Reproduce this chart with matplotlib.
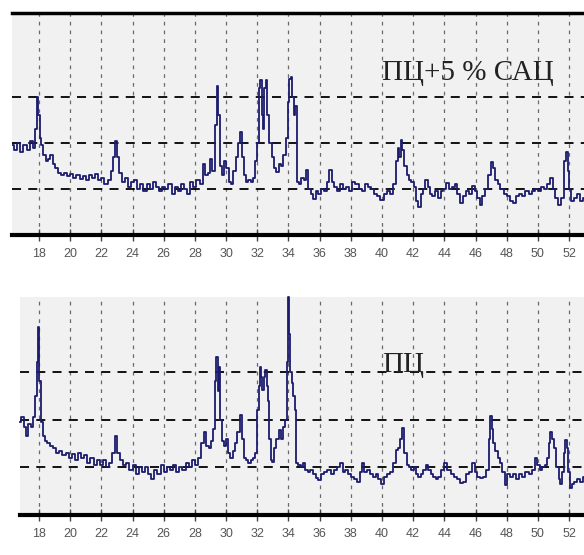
import matplotlib
matplotlib.use("Agg")
import matplotlib.pyplot as plt

# 2-theta positions and intensities (in units of the dashed grid spacing)
top_theta = [16.3, 16.5, 16.7, 16.9, 17.1, 17.3, 17.5, 17.7, 17.8, 17.9, 18.0, 18.1, 18.2, 18.35, 18.5,
             18.65, 18.8, 18.95, 19.1, 19.3, 19.5, 19.7, 19.9, 20.1, 20.3, 20.5, 20.7, 20.9, 21.1, 21.3,
             21.5, 21.7, 21.9, 22.1, 22.3, 22.5, 22.7, 22.85, 22.95, 23.05, 23.2, 23.4, 23.6, 23.8, 24.0,
             24.2, 24.4, 24.6, 24.8, 25.0, 25.2, 25.4, 25.6, 25.8, 26.0, 26.2, 26.4, 26.6, 26.8, 27.0,
             27.2, 27.4, 27.6, 27.8, 28.0, 28.2, 28.4, 28.6, 28.75, 28.9, 29.05, 29.2, 29.35, 29.45, 29.55,
             29.65, 29.8, 29.95, 30.1, 30.25, 30.4, 30.55, 30.7, 30.85, 30.95, 31.05, 31.2, 31.35, 31.5, 31.65,
             31.8, 31.95, 32.05, 32.15, 32.25, 32.35, 32.42, 32.5, 32.6, 32.7, 32.85, 33.0, 33.15, 33.3, 33.45,
             33.6, 33.75, 33.9, 34.0, 34.1, 34.2, 34.3, 34.4, 34.5, 34.6, 34.75, 34.9, 35.05, 35.2, 35.35,
             35.5, 35.7, 35.85, 36.0, 36.2, 36.4, 36.55, 36.7, 36.85, 37.0, 37.2, 37.4, 37.6, 37.8, 38.0,
             38.2, 38.4, 38.6, 38.8, 39.0, 39.2, 39.4, 39.6, 39.8, 40.0, 40.2, 40.4, 40.6, 40.8, 40.95,
             41.05, 41.15, 41.25, 41.35, 41.5, 41.65, 41.8, 41.95, 42.1, 42.25, 42.4, 42.55, 42.7, 42.85, 43.0,
             43.15, 43.3, 43.5, 43.7, 43.85, 44.0, 44.2, 44.4, 44.6, 44.75, 44.9, 45.1, 45.3, 45.5, 45.7,
             45.9, 46.05, 46.2, 46.35, 46.5, 46.7, 46.9, 47.05, 47.2, 47.35, 47.5, 47.7, 47.9, 48.1, 48.3,
             48.5, 48.7, 48.9, 49.1, 49.3, 49.5, 49.7, 49.9, 50.1, 50.3, 50.5, 50.7, 50.9, 51.05, 51.2,
             51.4, 51.6, 51.75, 51.85, 51.95, 52.05, 52.2, 52.4, 52.6, 52.8, 52.96]
top_intensity = [1.95, 1.85, 2.0, 1.8, 1.95, 1.85, 2.05, 1.9, 2.3, 3.0, 2.6, 2.1, 1.95, 1.75, 1.6,
                 1.65, 1.75, 1.55, 1.45, 1.35, 1.3, 1.35, 1.28, 1.32, 1.25, 1.3, 1.22, 1.28, 1.2, 1.3,
                 1.25, 1.32, 1.2, 1.25, 1.1, 1.2, 1.4, 1.7, 2.05, 1.7, 1.35, 1.15, 1.25, 1.05, 1.15,
                 1.2, 1.0, 1.1, 0.95, 1.1, 1.0, 1.15, 1.05, 0.95, 1.05, 1.0, 1.1, 0.9, 1.05, 0.95,
                 1.1, 1.0, 0.9, 1.15, 1.05, 1.2, 1.1, 1.55, 1.3, 1.35, 1.65, 1.4, 2.4, 3.25, 2.6,
                 1.5, 1.3, 1.6, 1.45, 1.15, 1.1, 1.4, 1.7, 2.0, 2.25, 1.7, 1.3, 1.15, 1.2, 1.15,
                 1.25, 1.6, 2.0, 3.2, 3.37, 2.6, 2.3, 3.2, 3.37, 2.6, 2.0, 1.7, 1.45, 1.37, 1.55,
                 1.5, 1.75, 2.1, 2.9, 3.4, 3.43, 3.0, 2.6, 2.8, 1.15, 1.1, 1.25, 1.2, 1.42, 1.0,
                 0.9, 0.78, 0.95, 0.9, 1.0, 0.95, 1.15, 1.42, 1.15, 1.05, 0.95, 1.1, 1.0, 1.05, 0.95,
                 1.15, 1.1, 1.0, 0.95, 1.1, 1.05, 1.0, 0.9, 0.85, 0.76, 0.9, 0.95, 0.9, 1.1, 1.6,
                 1.9, 1.7, 2.07, 1.85, 1.5, 1.3, 1.2, 1.15, 1.05, 0.75, 0.6, 0.9, 1.0, 1.2, 1.05,
                 0.9, 0.85, 0.95, 0.8, 0.95, 1.0, 1.13, 1.0, 1.05, 1.1, 0.9, 0.7, 0.85, 0.95, 0.9,
                 1.07, 0.95, 0.8, 0.65, 0.85, 1.0, 1.3, 1.59, 1.45, 1.2, 1.1, 1.0, 0.9, 0.85, 0.75,
                 0.7, 0.85, 0.9, 0.85, 0.95, 0.9, 0.95, 1.0, 0.95, 1.05, 1.0, 1.1, 1.24, 1.0, 0.8,
                 0.65, 0.8, 1.6, 1.8, 1.4, 1.0, 0.75, 0.8, 0.9, 0.75, 0.8]

bottom_theta = [16.8, 16.95, 17.1, 17.25, 17.4, 17.55, 17.7, 17.8, 17.9, 17.97, 18.05, 18.15, 18.3, 18.45, 18.6,
                18.8, 19.0, 19.2, 19.4, 19.6, 19.8, 20.0, 20.2, 20.4, 20.6, 20.8, 21.0, 21.2, 21.4, 21.6,
                21.8, 22.0, 22.2, 22.4, 22.6, 22.8, 22.95, 23.1, 23.3, 23.5, 23.7, 23.9, 24.1, 24.3, 24.5,
                24.7, 24.9, 25.1, 25.3, 25.5, 25.7, 25.9, 26.1, 26.3, 26.5, 26.7, 26.9, 27.1, 27.3, 27.5,
                27.7, 27.9, 28.1, 28.3, 28.5, 28.65, 28.8, 28.95, 29.1, 29.25, 29.35, 29.42, 29.5, 29.58, 29.65,
                29.8, 29.95, 30.06, 30.2, 30.35, 30.5, 30.65, 30.8, 30.95, 31.05, 31.2, 31.35, 31.5, 31.65, 31.8,
                31.95, 32.05, 32.12, 32.18, 32.28, 32.38, 32.48, 32.55, 32.65, 32.72, 32.8, 32.9, 33.0, 33.15, 33.3,
                33.45, 33.6, 33.75, 33.85, 33.92, 33.97, 34.05, 34.15, 34.25, 34.35, 34.45, 34.55, 34.7, 34.85, 35.0,
                35.15, 35.3, 35.5, 35.7, 35.85, 36.0, 36.2, 36.4, 36.6, 36.8, 37.0, 37.2, 37.4, 37.55, 37.7,
                37.9, 38.1, 38.3, 38.5, 38.65, 38.8, 38.95, 39.1, 39.3, 39.5, 39.7, 39.85, 40.0, 40.2, 40.4,
                40.6, 40.8, 40.96, 41.1, 41.25, 41.35, 41.5, 41.65, 41.8, 41.95, 42.1, 42.25, 42.4, 42.55, 42.7,
                42.9, 43.05, 43.2, 43.4, 43.55, 43.7, 43.9, 44.1, 44.3, 44.5, 44.7, 44.9, 45.1, 45.3, 45.5,
                45.7, 45.9, 46.05, 46.2, 46.4, 46.6, 46.8, 46.9, 46.99, 47.1, 47.2, 47.35, 47.5, 47.65, 47.8,
                47.95, 48.1, 48.3, 48.5, 48.7, 48.9, 49.1, 49.3, 49.5, 49.7, 49.9, 50.05, 50.2, 50.35, 50.5,
                50.65, 50.75, 50.85, 50.95, 51.1, 51.25, 51.4, 51.5, 51.6, 51.7, 51.8, 51.9, 52.0, 52.1, 52.25,
                52.4, 52.6, 52.8, 52.96]
bottom_intensity = [1.95, 2.05, 1.85, 1.65, 1.9, 1.85, 2.05, 2.5, 3.2, 3.94, 2.8, 1.95, 1.65, 1.55, 1.5,
                    1.45, 1.4, 1.3, 1.35, 1.25, 1.3, 1.2, 1.28, 1.15, 1.3, 1.2, 1.25, 1.1, 1.2, 1.05,
                    1.15, 1.05, 1.15, 1.0, 1.1, 1.3, 1.65, 1.3, 1.15, 1.05, 1.1, 0.95, 1.05, 0.85, 1.0,
                    0.9, 1.0, 0.85, 0.75, 0.95, 0.85, 1.05, 0.9, 1.0, 0.95, 1.05, 0.9, 1.0, 0.95, 1.1,
                    1.0, 1.15, 1.05, 1.2, 1.5, 1.75, 1.45, 1.4, 1.55, 1.8, 2.8, 3.31, 2.6, 3.1, 2.0,
                    1.55, 1.45, 1.6, 1.3, 1.2, 1.35, 1.5, 1.75, 2.1, 1.6, 1.2, 1.15, 1.1, 1.15, 1.2,
                    1.3, 2.2, 2.7, 3.1, 2.9, 2.62, 2.9, 3.04, 2.7, 2.4, 1.6, 1.15, 1.12, 1.4, 1.6,
                    1.78, 1.6, 1.85, 2.0, 3.2, 4.57, 3.8, 3.0, 2.77, 2.5, 2.2, 1.1, 1.05, 1.0, 1.08,
                    0.95, 0.9, 0.95, 0.85, 0.78, 0.73, 0.85, 0.9, 0.95, 0.85, 0.95, 1.0, 1.09, 0.9, 0.95,
                    0.85, 0.8, 0.75, 0.7, 0.9, 1.1, 0.9, 0.95, 0.85, 0.8, 0.85, 0.75, 0.66, 0.8, 0.85,
                    0.9, 1.1, 1.36, 1.4, 1.6, 1.82, 1.3, 1.05, 1.0, 0.95, 1.0, 0.85, 0.8, 0.85, 0.95,
                    1.05, 0.95, 0.85, 0.8, 0.75, 0.8, 0.95, 1.09, 0.95, 0.85, 0.8, 0.75, 0.67, 0.7, 0.85,
                    0.9, 1.1, 0.9, 0.8, 0.77, 0.8, 0.95, 1.6, 2.07, 1.8, 1.5, 1.35, 1.2, 1.1, 0.9,
                    0.62, 0.85, 0.8, 0.85, 0.75, 0.85, 0.8, 0.9, 0.85, 0.95, 1.2, 1.05, 0.95, 1.0, 1.05,
                    1.2, 1.5, 1.74, 1.6, 1.4, 1.0, 0.75, 0.66, 0.9, 1.3, 1.57, 1.4, 0.9, 0.57, 0.65,
                    0.7, 0.75, 0.7, 0.8]

x_ticks = list(range(16, 54, 2))
y_grid = [1, 2, 3]
top_label = "ПЦ+5 % САЦ"
bottom_label = "ПЦ"

LINE = "#1c1c6e"
PANEL_BG = "#f1f1f1"

W, H = 584, 555
fig = plt.figure(figsize=(W / 100, H / 100), dpi=100)
fig.patch.set_facecolor("white")


def px_to_x(px):
    return 18 + (px - 39) / 15.59


def setup(ax, xlim, ylim, label, label_xy, top_spine):
    ax.set_facecolor(PANEL_BG)
    ax.set_xlim(*xlim)
    ax.set_ylim(*ylim)
    ax.set_xticks([t for t in x_ticks if xlim[0] <= t <= xlim[1]])
    ax.set_yticks([])
    for t in x_ticks:
        if xlim[0] <= t <= xlim[1]:
            ax.axvline(t, color="#6a6a6a", lw=0.9, ls=(0, (3, 4)), zorder=1)
    for g in y_grid:
        ax.axhline(g, color="black", lw=1.3, ls=(0, (5, 4)), zorder=1)
    for side in ("left", "right"):
        ax.spines[side].set_visible(False)
    ax.spines["bottom"].set_linewidth(3.0)
    ax.spines["top"].set_visible(top_spine)
    ax.spines["top"].set_linewidth(2.5)
    ax.tick_params(axis="x", direction="inout", length=9, width=1.0, color="#444444",
                   labelsize=9, labelcolor="#555555", pad=5)
    for lab in ax.get_xticklabels():
        lab.set_fontfamily("Liberation Sans")
    ax.text(label_xy[0], label_xy[1], label, fontsize=21, family="Liberation Serif",
            color="#222222", ha="left", va="baseline", zorder=4)


ax_top = fig.add_axes([12 / W, 1 - 235 / H, (W - 12) / W, 222 / H])
setup(ax_top, (px_to_x(12), px_to_x(W)), (0, 222 / 46), top_label, (40.0, 3.37), True)
ax_top.plot(top_theta, top_intensity, drawstyle="steps-mid", color=LINE, lw=1.3, zorder=3)

ax_bot = fig.add_axes([20 / W, 1 - 515 / H, (W - 20) / W, 218 / H])
setup(ax_bot, (px_to_x(20), px_to_x(W)), (0, 218 / 47.7), bottom_label, (40.0, 3.0), False)
ax_bot.plot(bottom_theta, bottom_intensity, drawstyle="steps-mid", color=LINE, lw=1.3, zorder=3,
            clip_on=False)

fig.savefig("out.png", dpi=100, facecolor="white")
